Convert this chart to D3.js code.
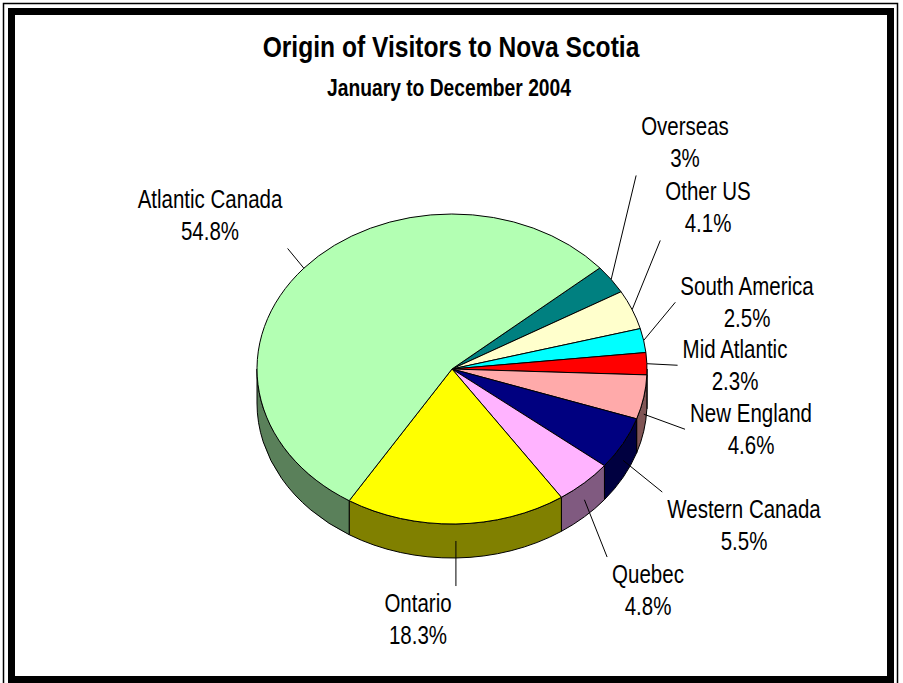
<!DOCTYPE html>
<html>
<head>
<meta charset="utf-8">
<script src="https://cdn.jsdelivr.net/npm/d3@7"></script>
<style>
	body { margin: 0; background: #fff; }
	svg { display: block; }
</style>
</head>
<body>
<svg id="chart"></svg>
<script>
// data, clockwise from the upper right edge of Atlantic Canada
var regions = ["Overseas", "Other US", "South America", "Mid Atlantic", "New England", "Western Canada", "Quebec", "Ontario", "Atlantic Canada"];
var shares = [3, 4.1, 2.5, 2.3, 4.6, 5.5, 4.8, 18.3, 54.8];
var topColours = ["#008080", "#FFFFCC", "#00FFFF", "#FF0000", "#FFAAAA", "#000080", "#FFB3FF", "#FFFF00", "#B3FFB3"];
var chartTitle = "Origin of Visitors to Nova Scotia";
var chartSubtitle = "January to December 2004";

var drawPie3d = function(selector){
	var width = 903, height = 683;
	var cx = 452, cy = 369, rx = 195, ry = 155, depth = 34;
	// no Arial Narrow here, so squeeze Liberation Sans instead
	var font = "'Liberation Sans', Arial, sans-serif";
	var squeeze = 0.82;
	// where Excel left each label (centre x, first baseline y)
	var labelSpots = [[685, 135], [708, 200], [747, 295], [735, 358], [751, 422], [744, 518], [648, 583], [418, 612], [210, 208]];

	var svg = d3.select(selector)
		.attr("width", width)
		.attr("height", height)
		.attr("viewBox", "0 0 " + width + " " + height);

	svg.append("rect")
		.attr("width", width)
		.attr("height", height)
		.attr("fill", "#fff");

	var narrowText = function(parent, x, y, size, weight){
		return parent.append("text")
			.attr("transform", "translate(" + x + "," + y + ") scale(" + squeeze + ",1)")
			.attr("text-anchor", "middle")
			.attr("font-family", font)
			.attr("font-weight", weight)
			.attr("font-size", size)
			.attr("fill", "#000");
	};

	var start = 49.3 * Math.PI / 180;
	var pie = d3.pie()
		.sort(null)
		.value(function(d){ return d; })
		.startAngle(start)
		.endAngle(start + 2 * Math.PI);
	var arcs = pie(shares);

	var pt = function(a, dz){
		return [cx + rx * Math.sin(a), cy - ry * Math.cos(a) + (dz || 0)];
	};
	var arcTo = function(a0, a1, dz, sweep){
		var p = pt(a1, dz);
		var large = Math.abs(a1 - a0) > Math.PI ? 1 : 0;
		return "A" + rx + "," + ry + " 0 " + large + "," + sweep + " " + p[0] + "," + p[1];
	};
	var darker = function(c){
		var col = d3.rgb(c);
		return d3.rgb(col.r / 2, col.g / 2, col.b / 2).toString();
	};

	// side walls: only the front half of the rim shows
	var sides = [];
	arcs.forEach(function(d, i){
		[0, 1].forEach(function(k){
			var lo = Math.max(d.startAngle, Math.PI / 2 + 2 * Math.PI * k);
			var hi = Math.min(d.endAngle, 3 * Math.PI / 2 + 2 * Math.PI * k);
			if (hi > lo){
				sides.push({i: i, a0: lo, a1: hi});
			}
		});
	});
	svg.append("g")
		.attr("class", "sides")
		.selectAll("path")
		.data(sides)
		.join("path")
			.attr("d", function(s){
				var p0 = pt(s.a0), p1 = pt(s.a1, depth);
				return "M" + p0[0] + "," + p0[1] + arcTo(s.a0, s.a1, 0, 1) +
					"L" + p1[0] + "," + p1[1] + arcTo(s.a1, s.a0, depth, 0) + "Z";
			})
			.attr("fill", function(s){ return darker(topColours[s.i]); })
			.attr("stroke", "#000")
			.attr("stroke-width", 1)
			.attr("stroke-linejoin", "round");

	// top faces
	svg.append("g")
		.attr("class", "tops")
		.selectAll("path")
		.data(arcs)
		.join("path")
			.attr("d", function(d){
				var p0 = pt(d.startAngle);
				return "M" + cx + "," + cy + "L" + p0[0] + "," + p0[1] + arcTo(d.startAngle, d.endAngle, 0, 1) + "Z";
			})
			.attr("fill", function(d, i){ return topColours[i]; })
			.attr("stroke", "#000")
			.attr("stroke-width", 1)
			.attr("stroke-linejoin", "round");

	// labels, then leader lines from the slice to the nearest side of the label box
	var labelG = svg.append("g").attr("class", "labels");
	var leaders = svg.append("g").attr("class", "leaders");
	arcs.forEach(function(d, i){
		var spot = labelSpots[i];
		var t = narrowText(labelG, spot[0], spot[1], 25, "normal");
		t.append("tspan")
			.attr("x", 0)
			.attr("y", 0)
			.text(regions[i]);
		t.append("tspan")
			.attr("x", 0)
			.attr("y", 32)
			.text(shares[i] + "%");

		var m = (d.startAngle + d.endAngle) / 2;
		var p = pt(m, Math.cos(m) < 0 ? depth / 2 : 0);
		var b = t.node().getBBox();
		var x0 = spot[0] + b.x * squeeze - 5, x1 = spot[0] + (b.x + b.width) * squeeze + 5;
		var y0 = spot[1] + b.y - 3, y1 = spot[1] + b.y + b.height + 3;
		var e;
		if (p[1] > y0 - 15 && p[1] < y1 + 15 && (p[0] < x0 || p[0] > x1)){
			e = [p[0] < x0 ? x0 : x1, (y0 + y1) / 2];
		} else {
			e = [Math.max(x0, Math.min(x1, p[0])), Math.max(y0, Math.min(y1, p[1]))];
		}
		leaders.append("line")
			.attr("x1", p[0])
			.attr("y1", p[1])
			.attr("x2", e[0])
			.attr("y2", e[1])
			.attr("stroke", "#000")
			.attr("stroke-width", 1);
	});

	narrowText(svg, 451, 57, 30, "bold").text(chartTitle);
	narrowText(svg, 449, 96, 23.5, "bold").text(chartSubtitle);

	// double frame
	svg.append("rect")
		.attr("x", 3.5)
		.attr("y", 3.5)
		.attr("width", 894)
		.attr("height", 692)
		.attr("fill", "none")
		.attr("stroke", "#000")
		.attr("stroke-width", 1.5);
	svg.append("rect")
		.attr("x", 11.5)
		.attr("y", 11.5)
		.attr("width", 879)
		.attr("height", 668)
		.attr("fill", "none")
		.attr("stroke", "#000")
		.attr("stroke-width", 7);
	return svg;
};

drawPie3d("#chart");
</script>
</body>
</html>
